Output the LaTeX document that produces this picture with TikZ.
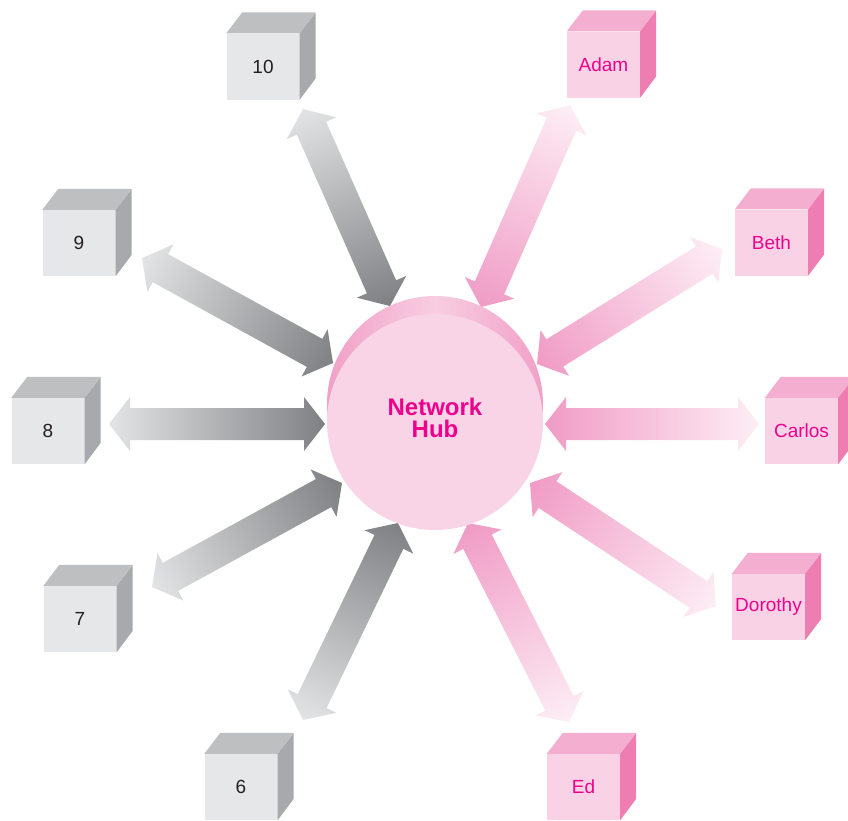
\documentclass[tikz,border=0pt]{standalone}
\usepackage{fontspec}
\setmainfont{Liberation Sans}
\usetikzlibrary{calc}
\definecolor{gfront}{HTML}{E6E7E8}
\definecolor{gtop}{HTML}{BDBFC1}
\definecolor{gside}{HTML}{A7A9AC}
\definecolor{gtext}{HTML}{231F20}
\definecolor{pfront}{HTML}{F9D3E5}
\definecolor{ptop}{HTML}{F4AECF}
\definecolor{pside}{HTML}{EE7DB2}
\definecolor{ptext}{HTML}{EC008C}
\definecolor{garrdark}{HTML}{7F8083}
\definecolor{garrlight}{HTML}{E3E4E5}
\definecolor{parrdark}{HTML}{F09BC5}
\definecolor{parrlight}{HTML}{FDEEF5}
\definecolor{hubfront}{HTML}{F9D4E6}
\definecolor{hubback}{HTML}{F1A0C7}
\definecolor{hubbacklight}{HTML}{F8CDE1}

\tikzset{
  gbox/.style={rectangle, fill=gfront, minimum width=73pt, minimum height=66pt,
    inner sep=0pt, text=gtext, font=\fontsize{19}{21}\selectfont},
  pbox/.style={rectangle, fill=pfront, minimum width=73pt, minimum height=66pt,
    inner sep=0pt, text=ptext, font=\fontsize{19}{21}\selectfont},
}

\newcommand\cubefaces[3]{%
  \fill[#2] (#1.north west) -- ++(16,-21) -- ++(73,0) -- (#1.north east) -- cycle;
  \fill[#3] (#1.north east) -- ++(16,-21) -- ++(0,66) -- (#1.south east) -- cycle;}

\newcommand\fatarrow[4]{%
  \path let \p1=(#1), \p2=(#2) in \pgfextra{%
    \pgfmathsetmacro\arrang{atan2((\y2)-(\y1),(\x2)-(\x1))}%
    \pgfmathsetmacro\arrlen{veclen((\x2)-(\x1),(\y2)-(\y1))}%
    \global\let\arrang\arrang\global\let\arrlen\arrlen};
  \begin{scope}[transform canvas={shift={(#1)},rotate=\arrang}]
    \shade[left color=#3,right color=#4] (0pt,0pt) -- (21pt,27pt) -- (21pt,16pt)
      -- (\arrlen pt-21pt,16pt) -- (\arrlen pt-21pt,27pt) -- (\arrlen pt,0pt)
      -- (\arrlen pt-21pt,-27pt) -- (\arrlen pt-21pt,-16pt) -- (21pt,-16pt)
      -- (21pt,-27pt) -- cycle;
  \end{scope}}

\begin{document}
\begin{tikzpicture}[x=1pt,y=-1pt]
\useasboundingbox (0,0) rectangle (848,820);

% arrow end coordinates (hub end h*, box end b*)
\coordinate (h10) at (390,306);  \coordinate (b10) at (303,109);
\coordinate (h9)  at (333,363);  \coordinate (b9)  at (142,258);
\coordinate (h8)  at (325,424);  \coordinate (b8)  at (109,424);
\coordinate (h7)  at (342,483);  \coordinate (b7)  at (152,587);
\coordinate (h6)  at (398,523);  \coordinate (b6)  at (303,720);
\coordinate (hA)  at (481,307);  \coordinate (bA)  at (570,105);
\coordinate (hB)  at (537,364);  \coordinate (bB)  at (722,249);
\coordinate (hC)  at (545,424);  \coordinate (bC)  at (759,424);
\coordinate (hD)  at (530,483);  \coordinate (bD)  at (716,606);
\coordinate (hE)  at (468,523);  \coordinate (bE)  at (569,722);

\fatarrow{h10}{b10}{garrdark}{garrlight}
\fatarrow{h9}{b9}{garrdark}{garrlight}
\fatarrow{h8}{b8}{garrdark}{garrlight}
\fatarrow{h7}{b7}{garrdark}{garrlight}
\fatarrow{h6}{b6}{garrdark}{garrlight}
\fatarrow{hA}{bA}{parrdark}{parrlight}
\fatarrow{hB}{bB}{parrdark}{parrlight}
\fatarrow{hC}{bC}{parrdark}{parrlight}
\fatarrow{hD}{bD}{parrdark}{parrlight}
\fatarrow{hE}{bE}{parrdark}{parrlight}

% hub
\shade[left color=hubback, right color=hubback, middle color=hubbacklight]
  (435,404) circle[radius=108pt];
\node[circle, fill=hubfront, minimum size=216pt, inner sep=0pt] (hub) at (435,422) {};
\node[text=ptext, font=\bfseries\fontsize{24}{22}\selectfont, align=center,
  inner sep=0pt] (hubtext) at (435,418) {Network\\Hub};

% boxes
\node[gbox] (n10) at (263,66.5) {10};
\node[gbox] (n9)  at (79,243)   {9};
\node[gbox] (n8)  at (48,431)   {8};
\node[gbox] (n7)  at (80,619)   {7};
\node[gbox] (n6)  at (241,787)  {6};
\node[pbox] (nA)  at (603.5,64.5) {Adam};
\node[pbox] (nB)  at (771.5,242.5) {Beth};
\node[pbox] (nC)  at (801.5,431) {Carlos};
\node[pbox] (nD)  at (768.5,607) {Dorothy};
\node[pbox] (nE)  at (583.5,787) {Ed};

\cubefaces{n10}{gtop}{gside}
\cubefaces{n9}{gtop}{gside}
\cubefaces{n8}{gtop}{gside}
\cubefaces{n7}{gtop}{gside}
\cubefaces{n6}{gtop}{gside}
\cubefaces{nA}{ptop}{pside}
\cubefaces{nB}{ptop}{pside}
\cubefaces{nC}{ptop}{pside}
\cubefaces{nD}{ptop}{pside}
\cubefaces{nE}{ptop}{pside}
\end{tikzpicture}
\end{document}
